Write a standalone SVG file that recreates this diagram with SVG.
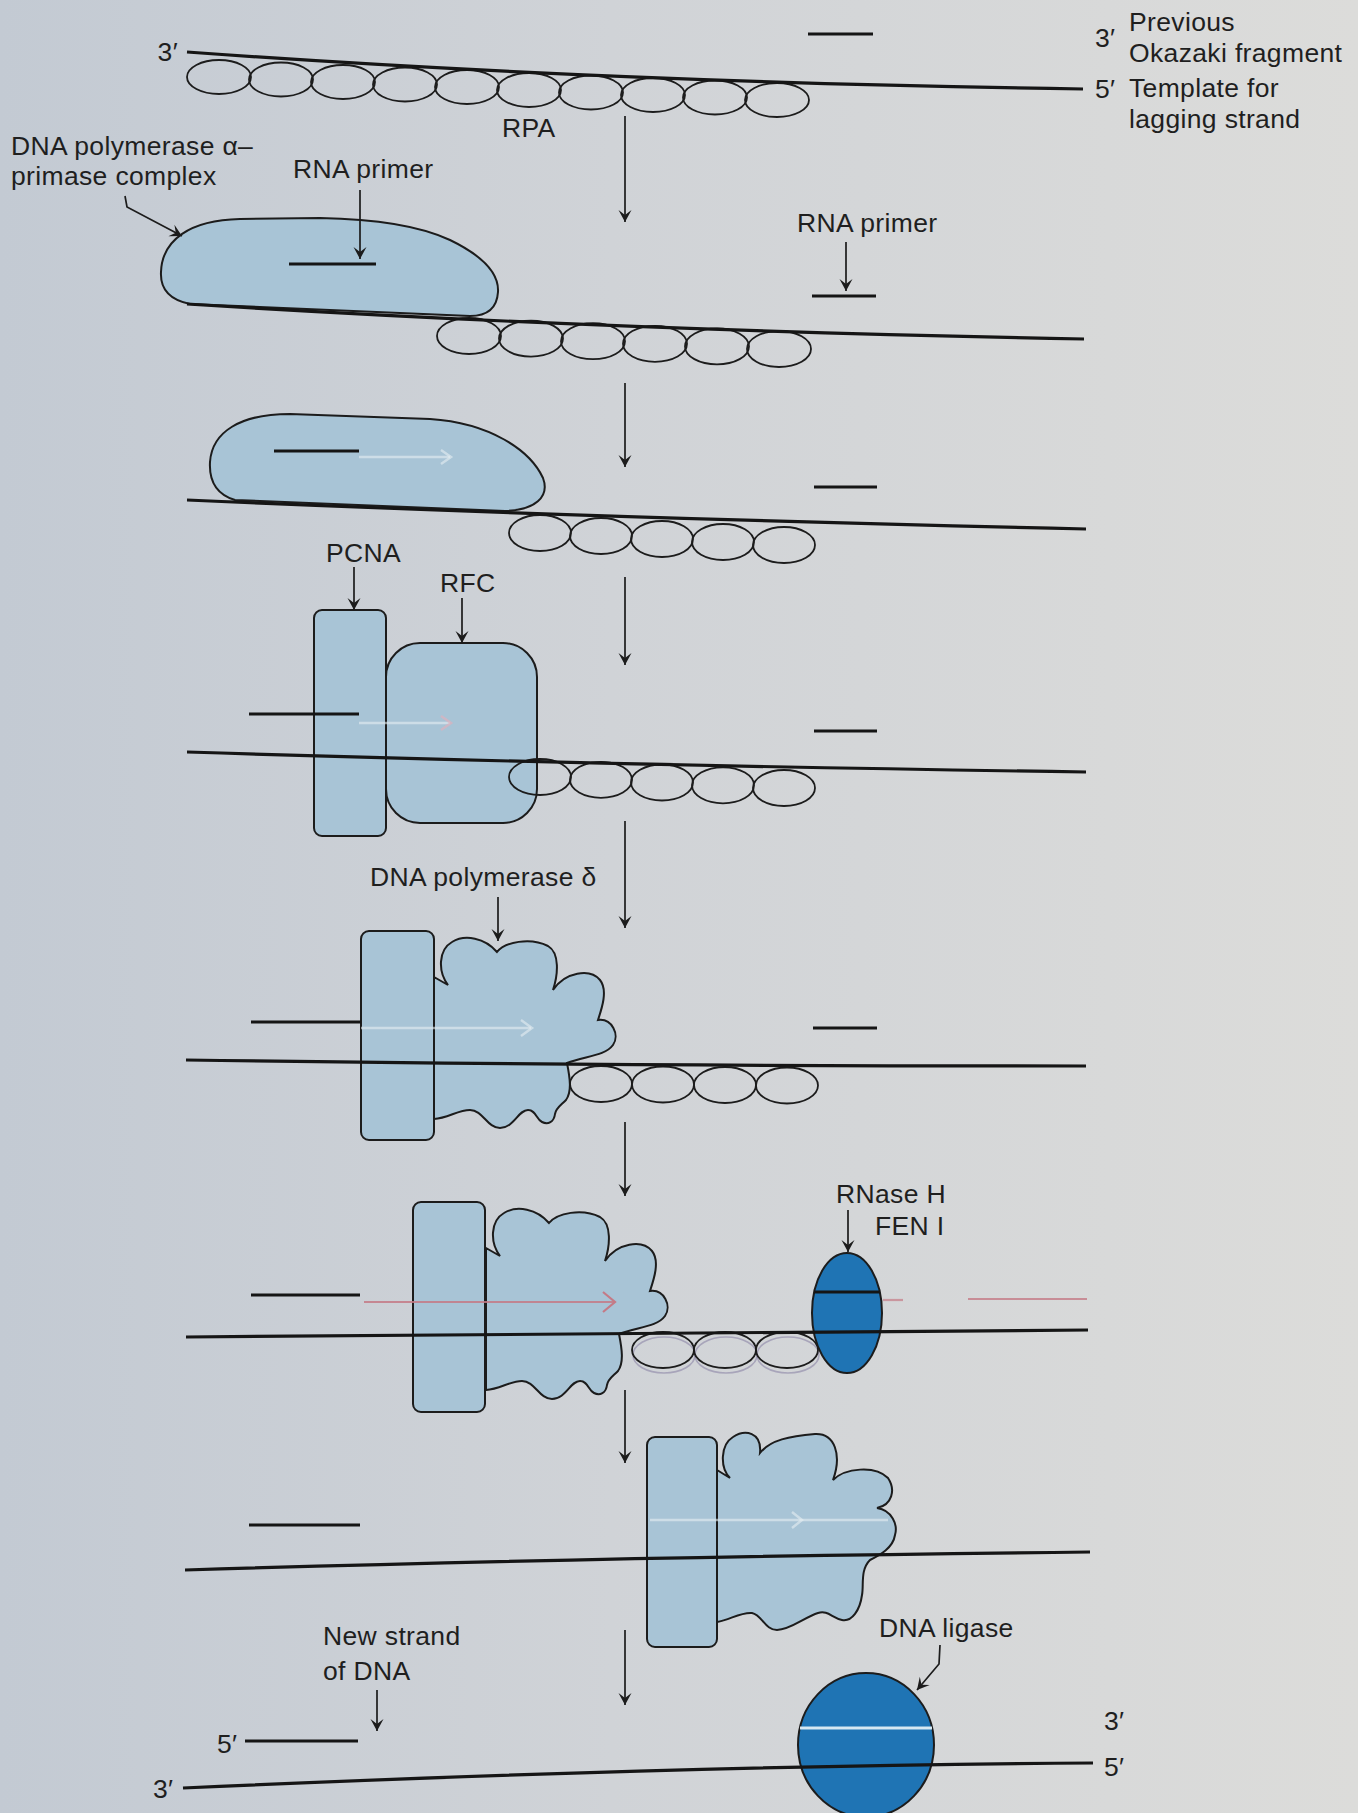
<svg xmlns="http://www.w3.org/2000/svg" width="1358" height="1813" viewBox="0 0 1358 1813">
<defs>
  <linearGradient id="paper" x1="0" y1="0" x2="1" y2="0">
    <stop offset="0" stop-color="#c3cad3"/>
    <stop offset="0.45" stop-color="#d0d3d7"/>
    <stop offset="1" stop-color="#dcdcda"/>
  </linearGradient>
  <marker id="ah" viewBox="-13 -8 15 16" markerWidth="15" markerHeight="16" refX="0" refY="0" orient="auto" markerUnits="userSpaceOnUse">
    <path d="M0,0 L-12,-6.5 L-7,0 L-12,6.5 Z" fill="#1c1c1c"/>
  </marker>
  <!-- lobed polymerase delta outline -->
  <path id="polDelta" d="M434,977 L448,985 C438,972 438,950 452,942 C465,934 485,938 497,952 C505,942 530,937 548,946 C560,953 558,975 553,990 C565,972 590,968 600,980 C608,990 602,1008 598,1020 C612,1018 620,1035 613,1045 C605,1056 585,1056 567,1063 C570,1078 572,1092 566,1100 C560,1106 556,1108 555,1114 C554,1122 548,1125 542,1122 C536,1119 536,1110 528,1110 C518,1110 514,1128 500,1128 C487,1128 483,1110 470,1110 C458,1110 448,1118 434,1119 Z"/>
  <style>
    .strand{fill:none;stroke:#151515;stroke-width:3.2}
    .primer{stroke:#151515;stroke-width:3.2}
    .rpa{fill:none;stroke:#1c1c1c;stroke-width:1.8}
    .ghost{fill:none;stroke:#8c86a6;stroke-width:1.6;opacity:.6}
    .prot{fill:#a8c4d6;stroke:#1c1c1c;stroke-width:2}
    .enz{fill:#1f74b4;stroke:#1c1c1c;stroke-width:2}
    .arrow{fill:none;stroke:#1c1c1c;stroke-width:1.7;marker-end:url(#ah)}
    .lbl{font-family:"Liberation Sans",Arial,sans-serif;font-size:26.5px;letter-spacing:.35px;fill:#1f1f1f}
    .faint{fill:none;stroke:#e6eef2;stroke-width:2.5;opacity:.6}
    .pink{fill:none;stroke:#c47a86;stroke-width:2.2}
  </style>
</defs>

<rect x="0" y="0" width="1358" height="1813" fill="url(#paper)"/>

<!-- Step 1: template with RPA -->
<g id="rpa-1">
  <ellipse class="rpa" cx="219" cy="77" rx="32" ry="17"/>
  <ellipse class="rpa" cx="281" cy="79.5" rx="32" ry="17"/>
  <ellipse class="rpa" cx="343" cy="82" rx="32" ry="17"/>
  <ellipse class="rpa" cx="405" cy="84.5" rx="32" ry="17"/>
  <ellipse class="rpa" cx="467" cy="87" rx="32" ry="17"/>
  <ellipse class="rpa" cx="529" cy="90" rx="32" ry="17"/>
  <ellipse class="rpa" cx="591" cy="92.5" rx="32" ry="17"/>
  <ellipse class="rpa" cx="653" cy="95" rx="32" ry="17"/>
  <ellipse class="rpa" cx="715" cy="97.5" rx="32" ry="17"/>
  <ellipse class="rpa" cx="777" cy="100" rx="32" ry="17"/>
</g>

<!-- Step 2: pol alpha-primase -->
<g id="pol-alpha-1">
  <path class="prot" d="M190,304 C170,300 160,290 161,272 C162,240 190,220 240,219 L320,218 C380,219 420,226 450,240 C485,257 499,275 498,292 C497,308 488,316 470,316 Z"/>
</g>
<g id="rpa-2">
  <ellipse class="rpa" cx="469" cy="336" rx="32" ry="18"/>
  <ellipse class="rpa" cx="531" cy="338.6" rx="32" ry="18"/>
  <ellipse class="rpa" cx="593" cy="341.2" rx="32" ry="18"/>
  <ellipse class="rpa" cx="655" cy="343.8" rx="32" ry="18"/>
  <ellipse class="rpa" cx="717" cy="346.4" rx="32" ry="18"/>
  <ellipse class="rpa" cx="779" cy="349" rx="32" ry="18"/>
</g>

<!-- Step 3 -->
<g id="pol-alpha-2">
  <path class="prot" d="M235,500 C215,494 209,480 210,462 C212,432 240,414 290,414 L430,419 C490,423 530,450 543,478 C550,497 535,510 505,511 Z"/>
</g>
<g id="rpa-3">
  <ellipse class="rpa" cx="540" cy="533" rx="31" ry="18"/>
  <ellipse class="rpa" cx="601" cy="536" rx="31" ry="18"/>
  <ellipse class="rpa" cx="662" cy="539" rx="31" ry="18"/>
  <ellipse class="rpa" cx="723" cy="542" rx="31" ry="18"/>
  <ellipse class="rpa" cx="784" cy="545" rx="31" ry="18"/>
</g>

<!-- Step 4: PCNA + RFC -->
<g id="pcna-1"><rect class="prot" x="314" y="610" width="72" height="226" rx="8"/></g>
<g id="rfc"><rect class="prot" x="386" y="643" width="151" height="180" rx="34"/></g>
<g id="rpa-4">
  <ellipse class="rpa" cx="540" cy="777" rx="31" ry="18"/>
  <ellipse class="rpa" cx="601" cy="779.8" rx="31" ry="18"/>
  <ellipse class="rpa" cx="662" cy="782.5" rx="31" ry="18"/>
  <ellipse class="rpa" cx="723" cy="785.3" rx="31" ry="18"/>
  <ellipse class="rpa" cx="784" cy="788" rx="31" ry="18"/>
</g>

<!-- Step 5: PCNA + pol delta -->
<g id="pol-delta-1"><use href="#polDelta" class="prot"/></g>
<g id="pcna-2"><rect class="prot" x="361" y="931" width="73" height="209" rx="8"/></g>
<g id="rpa-5">
  <ellipse class="rpa" cx="601" cy="1084" rx="31" ry="18"/>
  <ellipse class="rpa" cx="663" cy="1084.5" rx="31" ry="18"/>
  <ellipse class="rpa" cx="725" cy="1085" rx="31" ry="18"/>
  <ellipse class="rpa" cx="787" cy="1085.5" rx="31" ry="18"/>
</g>

<!-- Step 6: primer removal -->
<g id="pol-delta-2"><use href="#polDelta" class="prot" transform="translate(52,271)"/></g>
<g id="pcna-3"><rect class="prot" x="413" y="1202" width="72" height="210" rx="8"/></g>
<g id="rpa-6">
  <ellipse class="ghost" cx="664" cy="1355" rx="31" ry="18"/>
  <ellipse class="ghost" cx="726" cy="1355" rx="31" ry="18"/>
  <ellipse class="ghost" cx="788" cy="1355" rx="31" ry="18"/>
  <ellipse class="rpa" cx="663" cy="1350" rx="31" ry="18"/>
  <ellipse class="rpa" cx="725" cy="1350" rx="31" ry="18"/>
  <ellipse class="rpa" cx="787" cy="1350" rx="31" ry="18"/>
</g>
<g id="rnase-h"><ellipse class="enz" cx="847" cy="1313" rx="35" ry="60"/></g>

<!-- Step 7 -->
<g id="pol-delta-3">
  <path class="prot" d="M717,1470 L730,1478 C720,1468 720,1445 733,1437 C745,1429 762,1432 760,1453 C770,1440 790,1436 815,1434 C835,1433 842,1455 833,1480 C845,1468 875,1465 888,1478 C896,1490 892,1505 877,1508 C892,1510 898,1525 895,1535 C893,1548 880,1555 870,1560 C860,1570 864,1585 862,1595 C860,1610 852,1622 842,1620 C832,1618 828,1610 818,1613 C805,1617 790,1630 777,1630 C765,1630 762,1615 752,1613 C740,1612 730,1620 717,1622 Z"/>
</g>
<g id="pcna-4"><rect class="prot" x="647" y="1437" width="70" height="210" rx="8"/></g>

<!-- Step 8: ligation -->
<g id="dna-ligase"><ellipse class="enz" cx="866" cy="1745" rx="68" ry="72"/></g>

<!-- DNA strands -->
<g id="strands">
  <path class="strand" d="M187,52 Q600,82 1083,89"/>
  <line class="primer" x1="808" y1="34" x2="873" y2="34"/>

  <path class="strand" d="M187,304 Q600,330 1084,339"/>
  <line class="primer" x1="289" y1="264" x2="376" y2="264"/>
  <line class="primer" x1="812" y1="296" x2="876" y2="296"/>

  <path class="strand" d="M187,500 Q600,518 1086,529"/>
  <line class="primer" x1="274" y1="451" x2="359" y2="451"/>
  <line class="primer" x1="814" y1="487" x2="877" y2="487"/>

  <path class="strand" d="M187,752 Q600,765 1086,772"/>
  <line class="primer" x1="249" y1="714" x2="359" y2="714"/>
  <line class="primer" x1="814" y1="731" x2="877" y2="731"/>

  <path class="strand" d="M186,1060 Q600,1066 1086,1066"/>
  <line class="primer" x1="251" y1="1022" x2="361" y2="1022"/>
  <line class="primer" x1="813" y1="1028" x2="877" y2="1028"/>

  <path class="strand" d="M186,1337 L1088,1330"/>
  <line class="primer" x1="251" y1="1295" x2="360" y2="1295"/>
  <line class="primer" x1="814" y1="1292" x2="880" y2="1292"/>

  <path class="strand" d="M185,1570 Q600,1557 1090,1552"/>
  <line class="primer" x1="249" y1="1525" x2="360" y2="1525"/>

  <path class="strand" d="M183,1788 Q700,1765 1093,1763"/>
  <line class="primer" x1="245" y1="1741" x2="358" y2="1741"/>
  <line x1="800" y1="1728" x2="932" y2="1728" stroke="#d6e8f2" stroke-width="3"/>
</g>

<!-- pale synthesis-direction arrows -->
<g id="synthesis-marks">
  <line class="faint" x1="359" y1="457" x2="450" y2="457"/>
  <path class="faint" d="M441,450 L451,457 L441,464"/>
  <line class="faint" x1="359" y1="723" x2="450" y2="723"/>
  <path d="M441,716 L451,723 L441,730" fill="none" stroke="#d9b3bf" stroke-width="2.5" opacity=".75"/>
  <line class="faint" x1="361" y1="1028" x2="531" y2="1028"/>
  <path class="faint" d="M521,1020 L532,1028 L521,1036"/>
  <line class="pink" x1="364" y1="1302" x2="614" y2="1302" opacity=".85"/>
  <path class="pink" d="M603,1292 L615,1302 L603,1312"/>
  <line class="pink" x1="883" y1="1300" x2="903" y2="1300" opacity=".7"/>
  <line class="pink" x1="968" y1="1299" x2="1087" y2="1299" opacity=".8"/>
  <line class="faint" x1="650" y1="1520" x2="888" y2="1520"/>
  <path class="faint" d="M792,1512 L802,1520 L792,1528"/>
</g>

<!-- process and label arrows -->
<g id="connectors">
  <line class="arrow" x1="625" y1="116" x2="625" y2="222"/>
  <line class="arrow" x1="625" y1="383" x2="625" y2="467"/>
  <line class="arrow" x1="625" y1="577" x2="625" y2="665"/>
  <line class="arrow" x1="625" y1="821" x2="625" y2="928"/>
  <line class="arrow" x1="625" y1="1122" x2="625" y2="1196"/>
  <line class="arrow" x1="625" y1="1390" x2="625" y2="1463"/>
  <line class="arrow" x1="625" y1="1630" x2="625" y2="1705"/>

  <path class="arrow" d="M125,196 L127,207 L182,236"/>
  <line class="arrow" x1="360" y1="190" x2="360" y2="259"/>
  <line class="arrow" x1="846" y1="242" x2="846" y2="291"/>
  <line class="arrow" x1="354" y1="567" x2="354" y2="610"/>
  <line class="arrow" x1="462" y1="598" x2="462" y2="643"/>
  <line class="arrow" x1="498" y1="897" x2="498" y2="941"/>
  <line class="arrow" x1="848" y1="1210" x2="848" y2="1252"/>
  <line class="arrow" x1="377" y1="1690" x2="377" y2="1731"/>
  <path class="arrow" d="M940,1645 L939,1664 L917,1690"/>
</g>

<!-- labels -->
<g id="labels">
  <text class="lbl" x="178" y="61" text-anchor="end">3′</text>
  <text class="lbl" x="1095" y="47">3′</text>
  <text class="lbl" x="1095" y="98">5′</text>
  <text class="lbl" x="1129" y="31">Previous</text>
  <text class="lbl" x="1129" y="62">Okazaki fragment</text>
  <text class="lbl" x="1129" y="97">Template for</text>
  <text class="lbl" x="1129" y="128">lagging strand</text>
  <text class="lbl" x="502" y="137">RPA</text>
  <text class="lbl" x="11" y="155">DNA polymerase α–</text>
  <text class="lbl" x="11" y="185">primase complex</text>
  <text class="lbl" x="293" y="178">RNA primer</text>
  <text class="lbl" x="797" y="232">RNA primer</text>
  <text class="lbl" x="326" y="562">PCNA</text>
  <text class="lbl" x="440" y="592">RFC</text>
  <text class="lbl" x="370" y="886">DNA polymerase δ</text>
  <text class="lbl" x="836" y="1203">RNase H</text>
  <text class="lbl" x="875" y="1235">FEN I</text>
  <text class="lbl" x="323" y="1645">New strand</text>
  <text class="lbl" x="323" y="1680">of DNA</text>
  <text class="lbl" x="879" y="1637">DNA ligase</text>
  <text class="lbl" x="217" y="1753">5′</text>
  <text class="lbl" x="153" y="1798">3′</text>
  <text class="lbl" x="1104" y="1730">3′</text>
  <text class="lbl" x="1104" y="1776">5′</text>
</g>
</svg>
